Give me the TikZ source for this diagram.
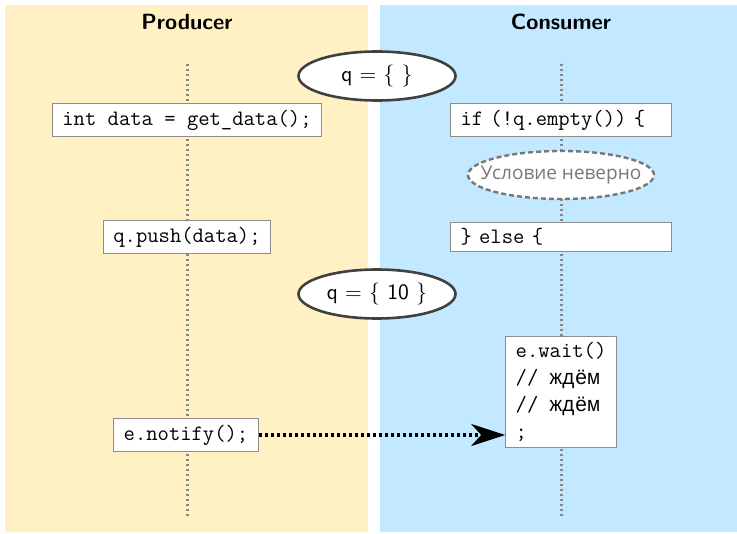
\documentclass[tikz,border=0pt]{standalone}
\usepackage{fontspec}
\newfontfamily\cyrsans{Open Sans}
\newfontfamily\cyrmono{Liberation Mono}
\usetikzlibrary{shapes.geometric,arrows.meta}

\definecolor{producerbg}{RGB}{255,241,196}
\definecolor{consumerbg}{RGB}{194,233,255}
\definecolor{boxline}{RGB}{140,140,140}
\definecolor{lifegray}{RGB}{135,135,135}
\definecolor{stateline}{RGB}{64,64,64}
\definecolor{notegray}{RGB}{120,120,120}

\tikzset{
  lanetitle/.style={font=\sffamily\bfseries\fontsize{11}{13}\selectfont},
  lifeline/.style={draw=lifegray, line width=1.5pt, dash pattern=on 1.2pt off 1.3pt},
  codebox/.style={draw=boxline, fill=white, line width=0.5pt,
    font=\ttfamily\fontsize{11}{13.5}\selectfont,
    inner xsep=5pt, inner ysep=3pt, minimum height=14.5pt},
  widebox/.style={codebox, text width=100.5pt, align=left},
  queuestate/.style={ellipse, draw=stateline, line width=1.3pt, fill=white,
    minimum width=78.5pt, minimum height=24.5pt, inner sep=0pt,
    font=\sffamily\fontsize{11}{13}\selectfont},
  notestate/.style={ellipse, draw=notegray, line width=1.2pt,
    dash pattern=on 2.5pt off 1.5pt, fill=white, text=notegray,
    minimum width=93pt, minimum height=24pt, inner xsep=-10pt, inner ysep=0pt,
    font=\cyrsans\fontsize{9.5}{11}\selectfont},
  signal/.style={line width=1.7pt, dash pattern=on 1.7pt off 1.3pt,
    -{Stealth[length=17pt,width=11pt,inset=5pt]}}
}

\begin{document}
\begin{tikzpicture}[x=0.5pt,y=-0.5pt]
  \useasboundingbox (0,0) rectangle (737,534);

  % swim lanes
  \fill[producerbg] (5,5) rectangle (368,532);
  \fill[consumerbg] (380,5) rectangle (737,532);
  \node[lanetitle] (ptitle) at (187,22) {Producer};
  \node[lanetitle] (ctitle) at (561,22) {Consumer};

  % life lines
  \coordinate (ptop) at (187,64);
  \coordinate (pbot) at (187,518);
  \coordinate (ctop) at (561,64);
  \coordinate (cbot) at (561,518);
  \draw[lifeline] (ptop) -- (pbot);
  \draw[lifeline] (ctop) -- (cbot);

  % producer side
  \node[codebox] (getdata) at (187,120) {int data = get\_data();};
  \node[codebox] (push) at (187,237) {q.push(data);};
  \node[codebox] (notify) at (186,435) {e.notify();};

  % consumer side
  \node[widebox] (ifempty) at (561,120) {if (!q.empty()) \{};
  \node[notestate] (falsecond) at (561,175) {Условие неверно};
  \node[widebox] (elsebr) at (561,237) {\} else \{};
  \node[codebox, align=left] (wait) at (561,392)
    {e.wait()\\// {\cyrmono\fontsize{10.5}{13.5}\selectfont ждём}\\// {\cyrmono\fontsize{10.5}{13.5}\selectfont ждём}\\;};

  % queue states
  \node[queuestate] (qempty) at (377,76) {q = \{ \}};
  \node[queuestate] (qfull) at (377,294) {q = \{ 10 \}};

  % notification
  \draw[signal] (notify.east) -- (notify.east -| wait.west);
\end{tikzpicture}
\end{document}
